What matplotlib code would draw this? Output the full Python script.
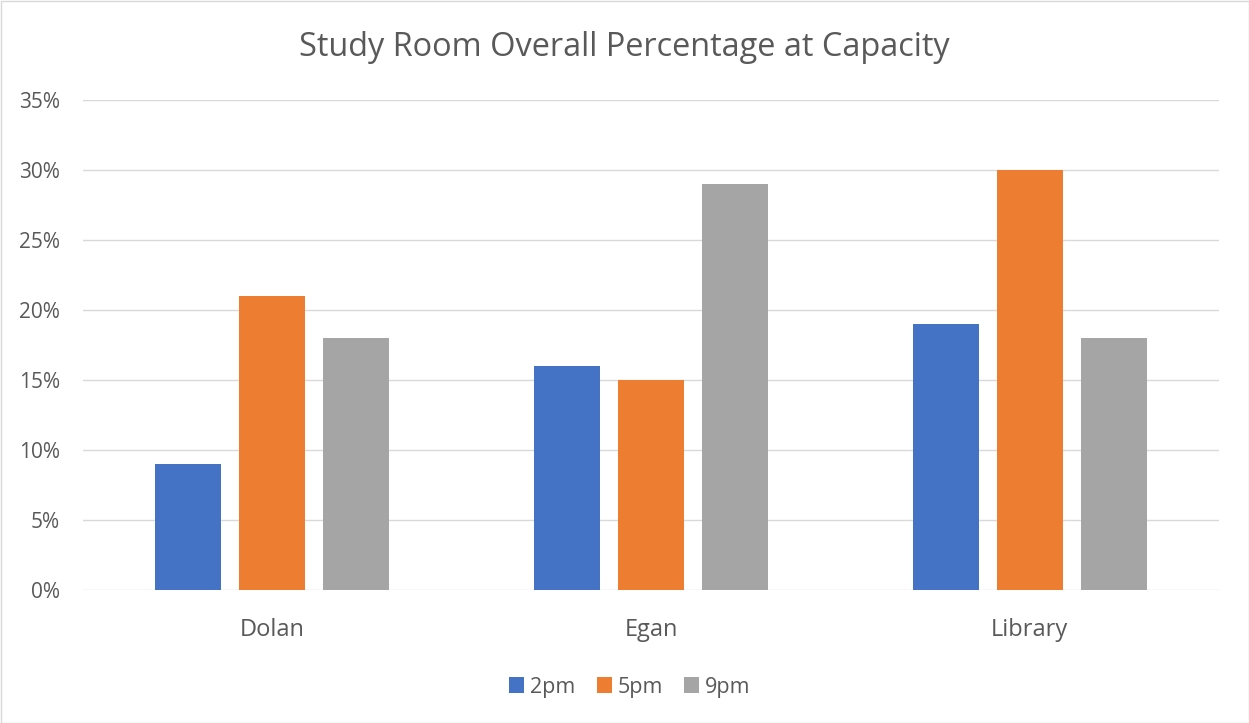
import matplotlib
matplotlib.use("Agg")
import matplotlib.pyplot as plt
import numpy as np
from matplotlib.ticker import FuncFormatter, MultipleLocator

categories = ["Dolan", "Egan", "Library"]
series_names = ["2pm", "5pm", "9pm"]
v2pm = [0.09, 0.16, 0.19]
v5pm = [0.21, 0.15, 0.30]
v9pm = [0.18, 0.29, 0.18]
colors = ["#4472C4", "#ED7D31", "#A5A5A5"]

plt.rcParams['font.family'] = ['Open Sans', 'DejaVu Sans']

fig = plt.figure(figsize=(12.49, 7.23), dpi=100)
ax = fig.add_axes([83/1249, 133/723, (1219-83)/1249, 490/723])

x = np.arange(len(categories))
width = 0.1743
offset = 0.2218
for i, (vals, name) in enumerate(zip([v2pm, v5pm, v9pm], series_names)):
    ax.bar(x + (i - 1) * offset, vals, width, color=colors[i], label=name, zorder=3)

ax.set_xlim(-0.5, 2.5)
ax.set_ylim(0, 0.35)
ax.yaxis.set_major_locator(MultipleLocator(0.05))
ax.yaxis.set_major_formatter(FuncFormatter(lambda v, p: f"{v*100:.0f}%"))
ax.grid(axis='y', color='#D9D9D9', linewidth=1, zorder=0)
for s in ax.spines.values():
    s.set_visible(False)
ax.tick_params(axis='both', length=0, colors='#595959')
ax.tick_params(axis='y', pad=16.5, labelsize=15)
ax.tick_params(axis='x', pad=20.5, labelsize=17)
ax.set_xticks(x)
ax.set_xticklabels(categories)

fig.text(624/1249, 1 - 47/723, "Study Room Overall Percentage at Capacity",
         ha='center', va='center', fontsize=23.4, color='#595959')

leg = fig.legend(loc='center', bbox_to_anchor=(630/1249, 1 - 687/723), ncol=3,
                 frameon=False, fontsize=15.5, handlelength=0.7, handleheight=0.7,
                 columnspacing=0.98, handletextpad=0.28)
for t in leg.get_texts():
    t.set_color('#595959')

fig.patches.append(plt.Rectangle((0.5/1249, 0.5/723), 1 - 1/1249, 1 - 1/723,
                                 transform=fig.transFigure, fill=False,
                                 edgecolor='#D9D9D9', linewidth=1))

fig.savefig("out.png", dpi=100)
